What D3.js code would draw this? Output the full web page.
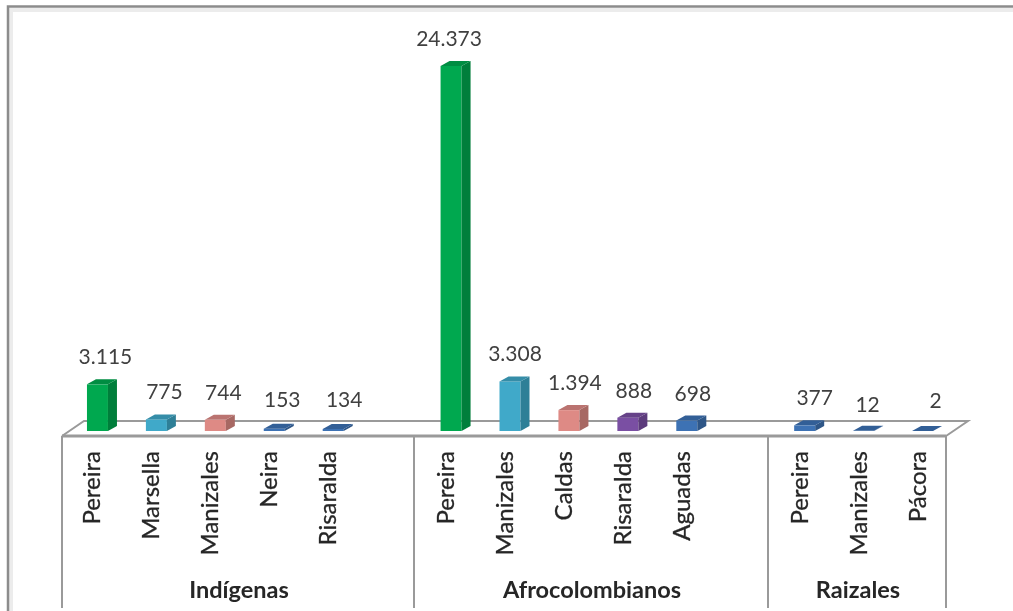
<!DOCTYPE html>
<html>
<head>
<meta charset="utf-8">
<script src="https://cdn.jsdelivr.net/npm/d3@7"></script>
<style>
  html, body { margin: 0; padding: 0; background: #fff; }
  svg { display: block; }
  text { font-family: Lato, "Open Sans", sans-serif; }
</style>
</head>
<body>
<svg id="chart" width="1013" height="611"></svg>
<script>
// Datos
var grupos = ["Indígenas", "Afrocolombianos", "Raizales"];
var indigenasLugares = ["Pereira", "Marsella", "Manizales", "Neira", "Risaralda"];
var indigenasValores = [3115, 775, 744, 153, 134];
var afroLugares = ["Pereira", "Manizales", "Caldas", "Risaralda", "Aguadas"];
var afroValores = [24373, 3308, 1394, 888, 698];
var raizalesLugares = ["Pereira", "Manizales", "Pácora"];
var raizalesValores = [377, 12, 2];

// Colores por posicion dentro de cada grupo
var indigenasColores = ["#00a84f", "#3fa9c9", "#de8a85", "#3d72b4", "#3d72b4"];
var afroColores = ["#00a84f", "#3fa9c9", "#de8a85", "#7a4fa3", "#3d72b4"];
var raizalesColores = ["#3d72b4", "#3d72b4", "#3d72b4"];

var series = [
    { nombre: grupos[0], lugares: indigenasLugares, valores: indigenasValores, colores: indigenasColores },
    { nombre: grupos[1], lugares: afroLugares, valores: afroValores, colores: afroColores },
    { nombre: grupos[2], lugares: raizalesLugares, valores: raizalesValores, colores: raizalesColores }
];

var svg = d3.select("#chart");

// Desenfoque leve, la imagen original es un JPEG suave
svg.append("defs").append("filter")
    .attr("id", "suave")
    .append("feGaussianBlur")
    .attr("stdDeviation", 0.45);

var lienzo = svg.append("g").attr("filter", "url(#suave)");

lienzo.append("rect")
    .attr("width", 1013).attr("height", 611)
    .attr("fill", "#fff");

// Marco exterior: solo arriba y a la izquierda, con su sombra clara
lienzo.append("path")
    .attr("d", "M11,611V10H1013")
    .attr("fill", "none")
    .attr("stroke", "#ececec")
    .attr("stroke-width", 4);
lienzo.append("path")
    .attr("d", "M8,611V6.5H1013")
    .attr("fill", "none")
    .attr("stroke", "#8c8c8c")
    .attr("stroke-width", 2.5);

// Cada grupo deja un hueco vacio al final, salvo el ultimo
var filas = [];
series.forEach(function(s, i) {
    s.lugares.forEach(function(l, j) {
        filas.push({ id: i + "-" + j, lugar: l, valor: s.valores[j], color: s.colores[j] });
    });
    if (i < series.length - 1) filas.push({ id: i + "-hueco" });
});

var x = d3.scaleBand()
    .domain(filas.map(d => d.id))
    .range([62, 946]);

// Las divisiones del original no caen exactas sobre las bandas
var xCorte = d3.scaleLinear()
    .domain([0, 6, 12, 15])
    .range([62, 414, 768, 946]);

var y = d3.scaleLinear()
    .domain([0, 24373])
    .range([431, 66]);

var fondoX = 22, fondoY = 15;    // profundidad del piso
var barraDx = 9, barraDy = 5;    // profundidad de la barra
var anchoBarra = 21;
var frenteY = 436, abajoY = 608;
var gris = "#9a9a9a";

// Ajustes a mano de etiquetas, como estaban movidas en el original
var ajusteValor = { "1-0": [-10, 0], "1-1": [-3, 0], "1-2": [-2, 0], "1-3": [-2, 0], "1-4": [-2, 0],
                    "0-3": [0, -2], "0-4": [3, -2], "2-0": [2, 0], "2-1": [-4, 1], "2-2": [5, -3] };

// Piso en perspectiva
lienzo.append("path")
    .attr("d", d3.line()([
        [x.range()[0], frenteY],
        [x.range()[0] + fondoX, frenteY - fondoY],
        [x.range()[1] + fondoX, frenteY - fondoY],
        [x.range()[1], frenteY]
    ]))
    .attr("fill", "#fff")
    .attr("stroke", gris)
    .attr("stroke-width", 2);

lienzo.append("line")
    .attr("x1", x.range()[0]).attr("x2", x.range()[1])
    .attr("y1", frenteY).attr("y2", frenteY)
    .attr("stroke", gris)
    .attr("stroke-width", 3);

// Divisiones entre grupos
var cortes = [];
var acumulado = 0;
series.forEach(function(s, i) {
    cortes.push({ inicio: acumulado, fin: acumulado + s.lugares.length + (i < series.length - 1 ? 1 : 0), nombre: s.nombre });
    acumulado = cortes[i].fin;
});

lienzo.selectAll(".corte")
    .data([0].concat(cortes.map(d => d.fin)))
    .enter().append("line")
    .attr("class", "corte")
    .attr("x1", d => xCorte(d))
    .attr("x2", d => xCorte(d))
    .attr("y1", frenteY).attr("y2", abajoY)
    .attr("stroke", gris)
    .attr("stroke-width", 2);

// Barras 3D
var datos = filas.filter(d => d.lugar);
var barras = lienzo.selectAll(".barra")
    .data(datos)
    .enter().append("g")
    .attr("class", "barra")
    .attr("transform", d => "translate(" + (x(d.id) + x.bandwidth() / 2 + 6 - anchoBarra / 2) + ",0)");

barras.append("rect")
    .attr("width", anchoBarra)
    .attr("y", d => y(d.valor))
    .attr("height", d => y(0) - y(d.valor))
    .attr("fill", d => d.color);

// Cara lateral
barras.append("path")
    .attr("d", d => d3.line()([
        [anchoBarra, y(d.valor)],
        [anchoBarra + barraDx, y(d.valor) - barraDy],
        [anchoBarra + barraDx, y(0) - barraDy],
        [anchoBarra, y(0)]
    ]))
    .attr("fill", d => d3.color(d.color).darker(0.8));

// Cara superior
barras.append("path")
    .attr("d", d => d3.line()([
        [0, y(d.valor)],
        [barraDx, y(d.valor) - barraDy],
        [anchoBarra + barraDx, y(d.valor) - barraDy],
        [anchoBarra, y(d.valor)]
    ]))
    .attr("fill", d => d3.color(d.color).darker(0.5));

// Valores
var formato = d3.formatLocale({ decimal: ",", thousands: ".", grouping: [3], currency: ["", ""] }).format(",d");

lienzo.selectAll(".valor")
    .data(datos)
    .enter().append("text")
    .attr("class", "valor")
    .attr("x", d => x(d.id) + x.bandwidth() / 2 + 14 + (ajusteValor[d.id] ? ajusteValor[d.id][0] : 0))
    .attr("y", d => y(d.valor) - barraDy - 15 + (ajusteValor[d.id] ? ajusteValor[d.id][1] : 0))
    .attr("text-anchor", "middle")
    .attr("font-size", 21)
    .attr("fill", "#404040")
    .text(d => formato(d.valor));

// Nombres de lugar, rotados
lienzo.selectAll(".lugar")
    .data(datos)
    .enter().append("text")
    .attr("class", "lugar")
    .attr("transform", d => "translate(" + (x(d.id) + x.bandwidth() / 2 + 9) + ",451) rotate(-90)")
    .attr("text-anchor", "end")
    .attr("font-size", 24)
    .attr("fill", "#262626")
    .attr("stroke", "#262626")
    .attr("stroke-width", 0.3)
    .text(d => d.lugar);

// Nombres de grupo
lienzo.selectAll(".grupo")
    .data(cortes)
    .enter().append("text")
    .attr("class", "grupo")
    .attr("x", d => (xCorte(d.inicio) + xCorte(d.fin)) / 2 + 1)
    .attr("y", 598)
    .attr("text-anchor", "middle")
    .attr("font-size", 23.5)
    .attr("font-weight", "bold")
    .attr("fill", "#262626")
    .text(d => d.nombre);
</script>
</body>
</html>
